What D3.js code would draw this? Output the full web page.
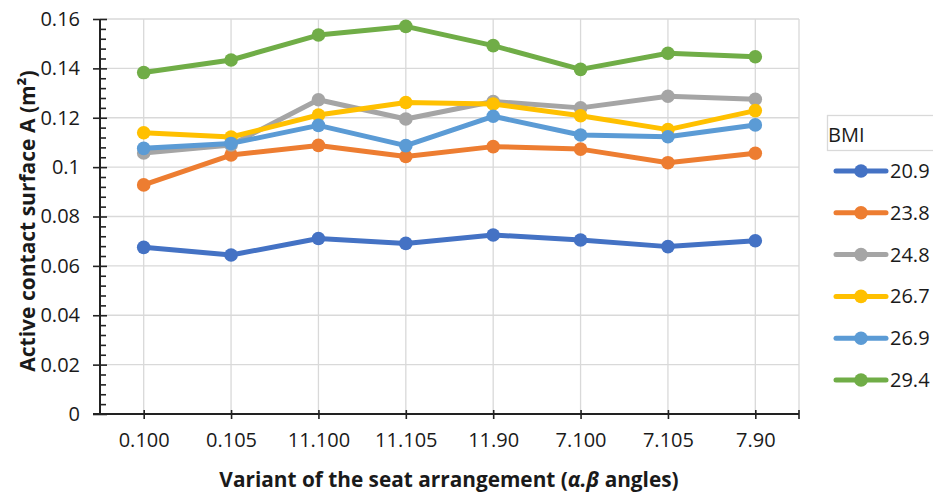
<!DOCTYPE html>
<html><head><meta charset="utf-8">
<script src="https://cdn.jsdelivr.net/npm/d3@7"></script>
<style>html,body{margin:0;padding:0;background:#fff;}svg{display:block;font-family:"Open Sans",sans-serif;}</style>
</head><body>
<svg id="chart" width="933" height="492"></svg>
<script>
const categories = ["0.100","0.105","11.100","11.105","11.90","7.100","7.105","7.90"];
const seriesNames = ["20.9","23.8","24.8","26.7","26.9","29.4"];
const s209 = [0.0675,0.0644,0.0711,0.0691,0.0725,0.0705,0.0678,0.0702];
const s238 = [0.0928,0.1049,0.1088,0.1043,0.1083,0.1073,0.1018,0.1056];
const s248 = [0.1057,0.1090,0.1273,0.1195,0.1266,0.1240,0.1287,0.1275];
const s267 = [0.1139,0.1122,0.1211,0.1262,0.1256,0.1208,0.1152,0.1229];
const s269 = [0.1076,0.1096,0.1169,0.1087,0.1206,0.1130,0.1123,0.1171];
const s294 = [0.1383,0.1434,0.1535,0.1570,0.1492,0.1396,0.1461,0.1447];
const colors = ["#4472C4","#ED7D31","#A5A5A5","#FFC000","#5B9BD5","#70AD47"];
const yMajor = [0,0.02,0.04,0.06,0.08,0.1,0.12,0.14,0.16];
const yLabels = ["0","0.02","0.04","0.06","0.08","0.1","0.12","0.14","0.16"];
const yTitle = "Active contact surface A (m²)";
const legendTitle = "BMI";

const allSeries = [s209,s238,s248,s267,s269,s294];
const svg = d3.select("#chart");
const L = 100, R = 799, T = 19, B = 414;
const x = d3.scalePoint().domain(categories).range([L, R]).padding(0.5);
const y = d3.scaleLinear().domain([0, 0.16]).range([B, T]);
const grid = "#d9d9d9", axisCol = "#222", txt = "#1a1a1a";

// gridlines
const g = svg.append("g");
g.selectAll(".hg").data(yMajor.slice(1)).join("line")
  .attr("x1", L).attr("x2", R).attr("y1", d => y(d)).attr("y2", d => y(d))
  .attr("stroke", grid).attr("stroke-width", 1.3);
g.selectAll(".vg").data(categories).join("line")
  .attr("x1", d => x(d)).attr("x2", d => x(d)).attr("y1", T).attr("y2", B)
  .attr("stroke", grid).attr("stroke-width", 1.3);
g.append("line").attr("x1", R).attr("x2", R).attr("y1", T).attr("y2", B)
  .attr("stroke", grid).attr("stroke-width", 1.3);

// minor y ticks
const minors = [];
for (let i = 0; i < 40; i++) { if (i % 5 !== 0) minors.push(i * 0.004); }
const yMinor = svg.append("g").attr("transform", `translate(${L},0)`)
  .call(d3.axisLeft(y).tickValues(minors).tickSize(-6).tickFormat(""));
yMinor.select(".domain").remove();
yMinor.selectAll("line").attr("stroke", axisCol).attr("stroke-width", 1.6);

// major y axis
const yAx = svg.append("g").attr("transform", `translate(${L},0)`)
  .call(d3.axisLeft(y).tickValues(yMajor).tickSize(7).tickPadding(13)
    .tickFormat((d, i) => yLabels[i]));
yAx.select(".domain").attr("d", `M0,${T}V${B}`).attr("stroke", axisCol).attr("stroke-width", 2);
yAx.selectAll(".tick line").attr("x1", -7).attr("x2", 7).attr("stroke", axisCol).attr("stroke-width", 1.6);
yAx.selectAll("text").attr("font-size", 20).attr("fill", txt).attr("font-family", "Open Sans");

// x axis
const xAx = svg.append("g").attr("transform", `translate(0,${B})`)
  .call(d3.axisBottom(x).tickSize(5).tickPadding(14));
xAx.select(".domain").attr("d", `M${L - 7},0H${R}`).attr("stroke", axisCol).attr("stroke-width", 2);
xAx.selectAll(".tick line").attr("y1", -4).attr("y2", 5).attr("stroke", axisCol).attr("stroke-width", 1.6);
xAx.append("line").attr("x1", R).attr("x2", R).attr("y1", -4).attr("y2", 5).attr("stroke", axisCol).attr("stroke-width", 1.6);
xAx.selectAll("text").attr("font-size", 20).attr("fill", txt).attr("font-family", "Open Sans");

// lines + markers
const line = d3.line().x((d, i) => x(categories[i])).y(d => y(d));
allSeries.forEach((s, k) => {
  svg.append("path").attr("d", line(s)).attr("fill", "none")
    .attr("stroke", colors[k]).attr("stroke-width", 5).attr("stroke-linejoin", "round");
  svg.append("g").selectAll("circle").data(s).join("circle")
    .attr("cx", (d, i) => x(categories[i])).attr("cy", d => y(d)).attr("r", 6.8)
    .attr("fill", colors[k]);
});

// axis titles
svg.append("text").attr("transform", "translate(35,221) rotate(-90)")
  .attr("text-anchor", "middle").attr("font-size", 21).attr("font-weight", "bold").attr("fill", txt)
  .text(yTitle);
const xt = svg.append("text").attr("x", 449).attr("y", 487).attr("text-anchor", "middle")
  .attr("font-size", 20.8).attr("font-weight", "bold").attr("fill", txt);
xt.append("tspan").text("Variant of the seat arrangement (");
xt.append("tspan").attr("font-style", "italic").text("α.β");
xt.append("tspan").text(" angles)");

// legend
const lg = svg.append("g");
lg.append("rect").attr("x", 827.5).attr("y", 115.5).attr("width", 120).attr("height", 35)
  .attr("fill", "#fff").attr("stroke", grid).attr("stroke-width", 1.3);
lg.append("text").attr("x", 828).attr("y", 142).attr("font-size", 20).attr("fill", txt).text(legendTitle);
const ly = d3.scalePoint().domain(seriesNames).range([171, 380]);
seriesNames.forEach((n, k) => {
  const yy = ly(n);
  lg.append("line").attr("x1", 836).attr("x2", 886).attr("y1", yy).attr("y2", yy)
    .attr("stroke", colors[k]).attr("stroke-width", 5).attr("stroke-linecap", "round");
  lg.append("circle").attr("cx", 861).attr("cy", yy).attr("r", 6.8).attr("fill", colors[k]);
  lg.append("text").attr("x", 890).attr("y", yy).attr("dy", "0.35em").attr("font-size", 20)
    .attr("fill", txt).text(n);
});
</script>
</body></html>
